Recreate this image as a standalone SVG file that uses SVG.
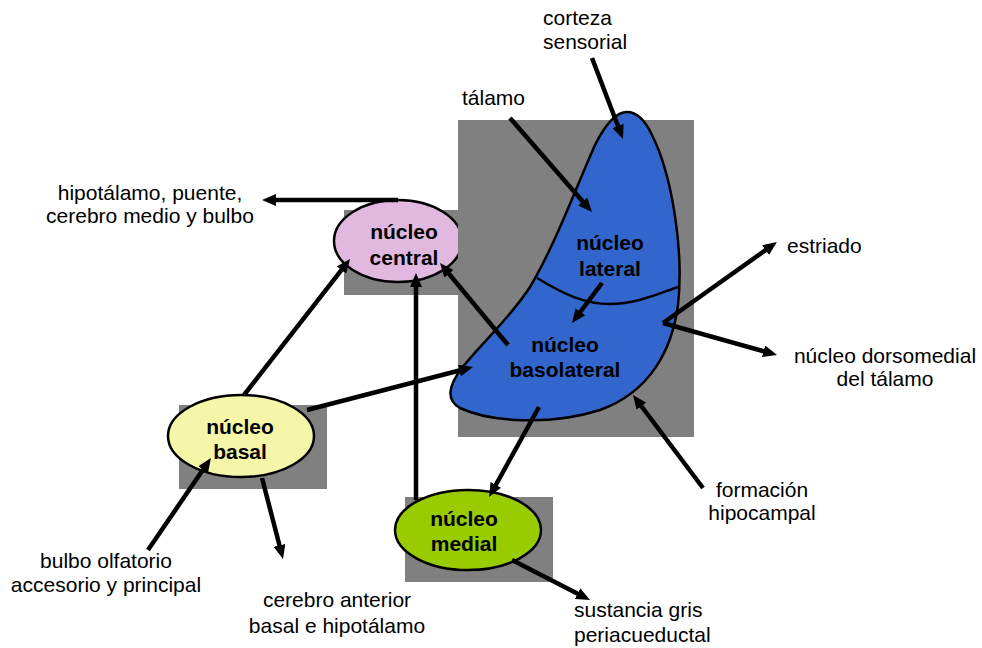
<svg xmlns="http://www.w3.org/2000/svg" width="982" height="648" viewBox="0 0 982 648">
<style>
.shadow{fill:#808080}
.node{stroke:#000;stroke-width:2.5}
.bt{font-family:"Liberation Sans",Arial,sans-serif;font-weight:bold;font-size:21px;fill:#000;text-anchor:middle}
.lt{font-family:"Liberation Sans",Arial,sans-serif;font-size:21px;fill:#000}
.c{text-anchor:middle}
.arr{stroke:#000;stroke-width:4.5;fill:none;marker-end:url(#ah)}
</style>
<defs>
<marker id="ah" markerUnits="userSpaceOnUse" markerWidth="14" markerHeight="12" refX="4" refY="6" orient="auto">
<path d="M0,0 L14,6 L0,12 z" fill="#000"/>
</marker>
</defs>
<rect width="982" height="648" fill="#fff"/>

<g id="nucleo-central">
<rect class="shadow" x="344" y="210" width="120" height="85"/>
<ellipse class="node" cx="398" cy="241" rx="64" ry="41" fill="#E0B8E0"/>
<text class="bt" x="404" y="239">núcleo</text>
<text class="bt" x="404" y="265">central</text>
</g>

<g id="amigdala">
<rect class="shadow" x="458" y="120" width="236" height="317"/>
<path class="node" fill="#3366CC" d="M627,112 C615,112 605,125 595,145 C575,190 555,245 530,287 C510,318 480,345 462,368 C448,386 446,400 460,408 C490,422 550,426 600,410 C650,392 672,350 678,305 C684,250 672,175 652,135 C645,120 637,112 627,112 Z"/>
<path d="M537,278 C565,295 585,304 610,304 C635,304 655,295 678,287" fill="none" stroke="#000" stroke-width="2.5"/>
</g>
<g id="nucleo-lateral">
<text class="bt" x="610" y="250">núcleo</text>
<text class="bt" x="610" y="276">lateral</text>
</g>
<g id="nucleo-basolateral">
<text class="bt" x="565" y="352">núcleo</text>
<text class="bt" x="565" y="377">basolateral</text>
</g>

<g id="nucleo-basal">
<rect class="shadow" x="179" y="405" width="148" height="84"/>
<ellipse class="node" cx="241" cy="436" rx="73" ry="41" fill="#F6F6A8"/>
<text class="bt" x="240" y="434">núcleo</text>
<text class="bt" x="240" y="459">basal</text>
</g>

<g id="nucleo-medial">
<rect class="shadow" x="405" y="497" width="148" height="85"/>
<ellipse class="node" cx="468" cy="530" rx="73" ry="40" fill="#99CC00"/>
<text class="bt" x="464" y="526">núcleo</text>
<text class="bt" x="464" y="551">medial</text>
</g>

<g id="corteza-sensorial">
<text class="lt" x="543" y="25">corteza</text>
<text class="lt" x="543" y="49">sensorial</text>
</g>
<g id="talamo">
<text class="lt" x="462" y="105">tálamo</text>
</g>
<g id="hipotalamo">
<text class="lt c" x="150" y="200">hipotálamo, puente,</text>
<text class="lt c" x="150" y="223">cerebro medio y bulbo</text>
</g>
<g id="estriado">
<text class="lt" x="787" y="253">estriado</text>
</g>
<g id="dorsomedial">
<text class="lt c" x="885" y="363">núcleo dorsomedial</text>
<text class="lt c" x="885" y="386">del tálamo</text>
</g>
<g id="hipocampal">
<text class="lt c" x="762" y="497">formación</text>
<text class="lt c" x="762" y="520">hipocampal</text>
</g>
<g id="sustancia-gris">
<text class="lt" x="574" y="617">sustancia gris</text>
<text class="lt" x="574" y="642">periacueductal</text>
</g>
<g id="cerebro-anterior">
<text class="lt c" x="337" y="607">cerebro anterior</text>
<text class="lt c" x="337" y="633">basal e hipotálamo</text>
</g>
<g id="bulbo-olfatorio">
<text class="lt c" x="106" y="568">bulbo olfatorio</text>
<text class="lt c" x="106" y="592">accesorio y principal</text>
</g>

<g id="connectors">
<line class="arr" x1="592" y1="58" x2="619.4" y2="129.7"/>
<line class="arr" x1="510" y1="118" x2="585.4" y2="204.5"/>
<line class="arr" x1="602" y1="283" x2="578" y2="315"/>
<line class="arr" x1="508" y1="345" x2="446.4" y2="270.7"/>
<line class="arr" x1="398" y1="200" x2="272" y2="200"/>
<line class="arr" x1="244" y1="395" x2="343.9" y2="266.9"/>
<line class="arr" x1="307" y1="410" x2="463.3" y2="369.5"/>
<line class="arr" x1="416" y1="500" x2="416" y2="283"/>
<line class="arr" x1="539" y1="407" x2="493.9" y2="488.3"/>
<line class="arr" x1="512" y1="560" x2="581.1" y2="595.4"/>
<line class="arr" x1="703" y1="488" x2="639" y2="403"/>
<line class="arr" x1="663" y1="323" x2="768.8" y2="247.8"/>
<line class="arr" x1="663" y1="323" x2="767.4" y2="352.3"/>
<line class="arr" x1="148" y1="550" x2="205.3" y2="466.3"/>
<line class="arr" x1="262" y1="478" x2="280.5" y2="549.3"/>
</g>
</svg>
